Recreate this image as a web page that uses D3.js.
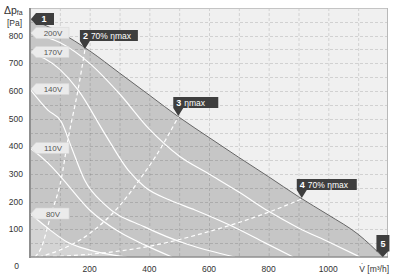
<!DOCTYPE html>
<html lang="en">
<head>
<meta charset="UTF-8">
<title>Fan curves</title>
<script src="https://cdnjs.cloudflare.com/ajax/libs/d3/7.8.5/d3.min.js"></script>
<style>
    body { margin: 0; background: #fff; }
    svg { display: block; font-family: "Liberation Sans", Arial, sans-serif; }
    .tick-label { font-size: 8.5px; fill: #333; }
    .volt-label { font-size: 8px; fill: #555; }
    .flag-num { font-size: 9px; font-weight: bold; fill: #fff; }
    .flag-text { font-size: 8.5px; fill: #fff; }
</style>
</head>
<body>
<svg id="chart"></svg>
<script>
    const width = 396;
    const height = 276;

    // operating envelope (upper boundary)
    const envelopeV = [0, 100, 200, 300, 400, 500, 600, 700, 800, 900, 1000, 1100, 1183];
    const envelopeP = [860, 812, 745, 665, 585, 505, 432, 360, 290, 218, 152, 82, 0];

    // voltage curves
    const voltNames = ["200V", "170V", "140V", "110V", "80V"];
    const voltV = [
        [0, 100, 200, 300, 400, 500, 600, 700, 800, 900, 1000, 1106],
        [0, 100, 161, 250, 329, 386, 470, 553, 680, 788, 882],
        [0, 60, 105, 138, 183, 250, 386, 530, 687],
        [0, 60, 104, 200, 300, 386, 476],
        [0, 67, 123, 201, 324]
    ];
    const voltP = [
        [810, 775, 700, 590, 462, 365, 300, 235, 165, 105, 55, 0],
        [741, 678, 604, 447, 314, 252, 205, 170, 110, 51, 0],
        [607, 531, 489, 399, 278, 190, 108, 45, 0],
        [394, 340, 289, 170, 90, 43, 0],
        [157, 98, 55, 25, 0]
    ];

    // efficiency lines (dashed)
    const effNum = ["2", "3", "4"];
    const effText = ["70% \u03b7max", "\u03b7max", "70% \u03b7max"];
    const effV = [
        [17, 37, 70, 104, 127, 161, 184],
        [30, 100, 200, 300, 386, 419, 497],
        [30, 200, 396, 600, 800, 911]
    ];
    const effP = [
        [0, 32, 152, 278, 423, 604, 748],
        [0, 25, 85, 185, 308, 360, 506],
        [0, 10, 38, 92, 162, 210]
    ];

    const xTicks = [200, 400, 600, 800, 1000];
    const yTicks = [100, 200, 300, 400, 500, 600, 700, 800];

    const x = d3.scaleLinear().domain([0, 1200]).range([30, 388]);
    const y = d3.scaleLinear().domain([0, 900]).range([257, 8]);

    const svg = d3.select("#chart").attr("width", width).attr("height", height);

    const pts = (vs, ps) => vs.map((v, i) => [v, ps[i]]);
    const line = d3.line().x(d => x(d[0])).y(d => y(d[1])).curve(d3.curveMonotoneX);
    const area = d3.area().x(d => x(d[0])).y0(y(0)).y1(d => y(d[1])).curve(d3.curveMonotoneX);

    // plot background
    svg.append("rect")
        .attr("x", x(0)).attr("y", y(900))
        .attr("width", x(1200) - x(0)).attr("height", y(0) - y(900))
        .attr("fill", "#f0f0f0");

    const envelope = pts(envelopeV, envelopeP);
    svg.append("path").attr("d", area(envelope)).attr("fill", "#c6c6c6");

    // lighter zone under the lowest curve
    svg.append("path").attr("d", area(pts(voltV[4], voltP[4]))).attr("fill", "#d4d4d4");

    // grid
    const grid = svg.append("g")
        .attr("stroke", "rgba(0,0,0,0.13)")
        .attr("stroke-dasharray", "3,2")
        .attr("stroke-width", 1);
    grid.selectAll(".gx")
        .data(d3.range(100, 1200, 100))
        .join("line")
        .attr("x1", d => x(d) + 0.5).attr("x2", d => x(d) + 0.5)
        .attr("y1", y(900)).attr("y2", y(0));
    grid.selectAll(".gy")
        .data(d3.range(50, 900, 50))
        .join("line")
        .attr("x1", x(0)).attr("x2", x(1200))
        .attr("y1", d => Math.round(y(d)) + 0.5).attr("y2", d => Math.round(y(d)) + 0.5);

    // envelope border
    svg.append("path").attr("d", line(envelope))
        .attr("fill", "none").attr("stroke", "#666").attr("stroke-width", 1);

    // voltage curves
    voltNames.forEach((n, i) => {
        svg.append("path").attr("d", line(pts(voltV[i], voltP[i])))
            .attr("fill", "none").attr("stroke", "#fff").attr("stroke-width", 1.2);
    });

    // efficiency curves
    effNum.forEach((n, i) => {
        svg.append("path").attr("d", line(pts(effV[i], effP[i])))
            .attr("fill", "none").attr("stroke", "#fff").attr("stroke-width", 1.2)
            .attr("stroke-dasharray", "4,3");
    });

    // frame
    svg.append("line").attr("x1", x(0)).attr("x2", x(1200)).attr("y1", y(900) + 0.5).attr("y2", y(900) + 0.5)
        .attr("stroke", "#c4c4c4");
    svg.append("line").attr("x1", x(1200) - 0.5).attr("x2", x(1200) - 0.5).attr("y1", y(900)).attr("y2", y(0))
        .attr("stroke", "#b8b8b8");
    svg.append("line").attr("x1", x(0)).attr("x2", x(0)).attr("y1", y(900)).attr("y2", y(0) + 1)
        .attr("stroke", "#8f8f8f").attr("stroke-width", 2);
    svg.append("line").attr("x1", x(0)).attr("x2", x(1200)).attr("y1", y(0)).attr("y2", y(0))
        .attr("stroke", "#8f8f8f").attr("stroke-width", 1.5);

    // tick labels
    svg.selectAll(".xl").data(xTicks).join("text")
        .attr("class", "tick-label")
        .attr("x", d => x(d)).attr("y", 271.5)
        .attr("text-anchor", "middle")
        .text(d => d);
    svg.selectAll(".yl").data(yTicks).join("text")
        .attr("class", "tick-label")
        .attr("x", 23).attr("y", d => y(d) + 3)
        .attr("text-anchor", "end")
        .text(d => d);
    svg.append("text").attr("class", "tick-label").attr("x", 16.5).attr("y", 268.5)
        .attr("text-anchor", "middle").text("0");

    // axis titles
    const yt = svg.append("text").attr("x", 4).attr("y", 14).attr("fill", "#333");
    yt.append("tspan").attr("font-size", 10.5).text("\u0394p");
    yt.append("tspan").attr("font-size", 7).attr("dy", 1).text("fa");
    svg.append("text").attr("x", 7).attr("y", 26).attr("font-size", 8.5).attr("fill", "#333").text("[Pa]");
    svg.append("text").attr("x", 389).attr("y", 271.5).attr("font-size", 8.5).attr("fill", "#333")
        .attr("text-anchor", "end").text("V\u0307 [m\u00b3/h]");

    // voltage labels
    voltNames.forEach((n, i) => {
        const yc = y(voltP[i][0]);
        const g = svg.append("g");
        g.append("path")
            .attr("d", `M${x(0) + 1},${yc} L${x(0) + 6},${yc - 5.5} L${x(0) + 39},${yc - 5.5} L${x(0) + 39},${yc + 5.5} L${x(0) + 6},${yc + 5.5} Z`)
            .attr("fill", "#ebebeb").attr("stroke", "#d6d6d6").attr("stroke-width", 0.6);
        g.append("text").attr("class", "volt-label")
            .attr("x", x(0) + 23).attr("y", yc + 3)
            .attr("text-anchor", "middle").text(n);
    });

    // efficiency flags
    const flagW = [58, 45, 60];
    effNum.forEach((n, i) => {
        const k = effV[i].length - 1;
        const tx = x(effV[i][k]);
        const ty = y(effP[i][k]);
        const top = ty - 20;
        const left = tx - 5;
        const g = svg.append("g");
        g.append("path")
            .attr("d", `M${left},${top} h${flagW[i]} v11 H${tx + 5} L${tx},${ty - 1} L${tx - 5},${top + 11} H${left} Z`)
            .attr("fill", "#3e3e3e");
        g.append("text").attr("class", "flag-num").attr("x", left + 3).attr("y", top + 8.8).text(n);
        g.append("text").attr("class", "flag-text").attr("x", left + 11).attr("y", top + 8.8).text(effText[i]);
    });

    // flag 1 (max pressure) and flag 5 (max volume)
    const f1y = y(envelopeP[0]);
    svg.append("path")
        .attr("d", `M${x(0) + 1},${f1y} L${x(0) + 6},${f1y - 6} H${x(0) + 24} V${f1y + 6} H${x(0) + 6} Z`)
        .attr("fill", "#3e3e3e");
    svg.append("text").attr("class", "flag-num").attr("x", x(0) + 14).attr("y", f1y + 3.2)
        .attr("text-anchor", "middle").text("1");

    const f5x = x(envelopeV[envelopeV.length - 1]);
    svg.append("path")
        .attr("d", `M${f5x - 6.5},${y(0) - 22} H${f5x + 6.5} V${y(0) - 5.5} H${f5x + 5} L${f5x},${y(0)} L${f5x - 5},${y(0) - 5.5} H${f5x - 6.5} Z`)
        .attr("fill", "#3e3e3e");
    svg.append("text").attr("class", "flag-num").attr("x", f5x).attr("y", y(0) - 10.5)
        .attr("text-anchor", "middle").text("5");
</script>
</body>
</html>
